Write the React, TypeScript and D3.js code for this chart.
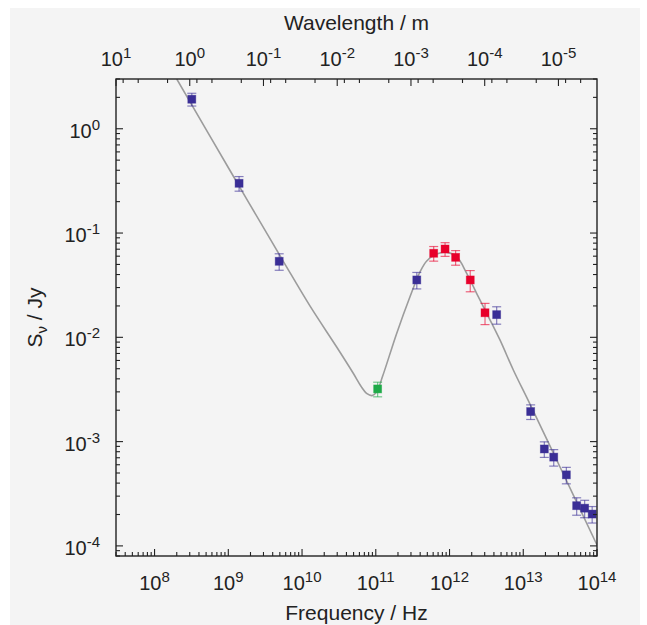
import React from 'react';
import * as d3 from 'd3';

// ---- data ----
const blueFreq = [3.2e8, 1.4e9, 4.9e9, 3.6e11, 4.36e12, 1.26e13, 1.93e13, 2.59e13, 3.84e13, 5.3e13, 6.8e13, 8.6e13];
const blueFlux = [1.92, 0.30, 0.0536, 0.0355, 0.0165, 1.94e-3, 8.5e-4, 7.1e-4, 4.8e-4, 2.43e-4, 2.30e-4, 2.02e-4];
const blueErr = [0.14, 0.16, 0.18, 0.18, 0.19, 0.16, 0.17, 0.18, 0.18, 0.19, 0.19, 0.18];

const greenFreq = [1.06e11];
const greenFlux = [3.2e-3];
const greenErr = [0.16];

const redFreq = [6.1e11, 8.7e11, 1.21e12, 1.91e12, 3.03e12];
const redFlux = [0.064, 0.0703, 0.0585, 0.0355, 0.0172];
const redErr = [0.16, 0.15, 0.16, 0.23, 0.23];

// model curve
const curveFreq = [2.0e8, 1.05e9, 5.57e9, 1.28e10, 2.95e10, 4.95e10, 6.3e10, 7.6e10, 8.9e10, 1.03e11, 1.24e11, 1.92e11, 2.91e11, 3.98e11, 4.91e11, 6.7e11, 9.16e11, 1.25e12, 1.71e12, 2.33e12, 3.19e12, 4.83e12, 7.33e12, 1.23e13, 3.15e13, 1.0e14];
const curveFlux = [3.0, 0.40, 0.0536, 0.02, 8.07e-3, 4.52e-3, 3.4e-3, 2.88e-3, 2.76e-3, 3.0e-3, 4.25e-3, 0.0109, 0.0245, 0.0424, 0.054, 0.063, 0.0652, 0.0593, 0.0411, 0.0264, 0.017, 9.44e-3, 4.86e-3, 2.3e-3, 5.71e-4, 1.02e-4];

const freqExps = [8, 9, 10, 11, 12, 13, 14];
const fluxExps = [0, -1, -2, -3, -4];
const waveExps = [1, 0, -1, -2, -3, -4, -5];
const waveMinorMult = [8, 5, 2];

const C_LIGHT = 3e8;

const W = 647, H = 625;
const L = 116, R = 597, T = 79, B = 556;
const FONT = '"Liberation Sans", Arial, Helvetica, sans-serif';

const BLUE = '#3a2e96';
const RED = '#e8002b';
const GREEN = '#1eaa48';

export default function App() {
  const x = d3.scaleLog().domain([3e7, 1e14]).range([L, R]);
  const y = d3.scaleLog().domain([8e-5, 3]).range([B, T]);

  const xTicks: { v: number; major: boolean }[] = [];
  for (let e = 7; e <= 14; e++) {
    for (let m = 1; m <= 9; m++) {
      const v = m * Math.pow(10, e);
      if (v >= 3e7 * 0.999 && v <= 1e14 * 1.001) xTicks.push({ v, major: m === 1 });
    }
  }
  const yTicks: { v: number; major: boolean }[] = [];
  for (let e = -5; e <= 0; e++) {
    for (let m = 1; m <= 9; m++) {
      const v = m * Math.pow(10, e);
      if (v >= 8e-5 * 0.999 && v <= 3 * 1.001) yTicks.push({ v, major: m === 1 });
    }
  }
  const topTicks: { v: number; major: boolean }[] = [];
  for (let e = 1; e >= -6; e--) {
    const lam = Math.pow(10, e);
    const nu = C_LIGHT / lam;
    if (nu >= 3e7 * 0.999 && nu <= 1e14 * 1.001) topTicks.push({ v: nu, major: true });
    for (const m of waveMinorMult) {
      const l2 = m * Math.pow(10, e - 1);
      const n2 = C_LIGHT / l2;
      if (n2 > 3e7 * 1.001 && n2 < 1e14 * 0.999) topTicks.push({ v: n2, major: false });
    }
  }

  const curveData: [number, number][] = curveFreq.map((f, i) => [f, curveFlux[i]]);
  const line = d3
    .line<[number, number]>()
    .x((d) => x(d[0]))
    .y((d) => y(d[1]))
    .curve(d3.curveCatmullRom.alpha(0.5));

  const series = [
    { f: blueFreq, s: blueFlux, e: blueErr, c: BLUE },
    { f: greenFreq, s: greenFlux, e: greenErr, c: GREEN },
    { f: redFreq, s: redFlux, e: redErr, c: RED },
  ];

  const MAJ = 7, MIN = 4;
  const SQ = 8, CAP = 4.5;

  return (
    <svg width={W} height={H} style={{ position: 'absolute', left: 0, top: 0, background: '#ffffff' }} fontFamily={FONT}>
      <rect x={10} y={8} width={630} height={617} fill="#f4f4f4" />
      <defs>
        <clipPath id="plotclip">
          <rect x={L} y={T} width={R - L} height={B - T} />
        </clipPath>
      </defs>

      {/* curve */}
      <path d={line(curveData) || ''} fill="none" stroke="#9c9c9c" strokeWidth={1.6} clipPath="url(#plotclip)" />

      {/* points */}
      {series.map((sr, si) =>
        sr.f.map((f, i) => {
          const cx = x(f);
          const cy = y(sr.s[i]);
          const hi = y(sr.s[i] * (1 + sr.e[i]));
          const lo = y(sr.s[i] * (1 - sr.e[i]));
          return (
            <g key={`${si}-${i}`}>
              <g stroke={sr.c} strokeOpacity={0.6} strokeWidth={1.2}>
                <line x1={cx} x2={cx} y1={hi} y2={lo} />
                <line x1={cx - CAP} x2={cx + CAP} y1={hi} y2={hi} />
                <line x1={cx - CAP} x2={cx + CAP} y1={lo} y2={lo} />
              </g>
              <rect x={cx - SQ / 2} y={cy - SQ / 2} width={SQ} height={SQ} fill={sr.c} stroke={sr.c} strokeOpacity={0.5} strokeWidth={0.8} />
            </g>
          );
        })
      )}

      {/* ticks */}
      <g stroke="#222" strokeWidth={1.1}>
        {xTicks.map((t, i) => (
          <line key={'xb' + i} x1={x(t.v)} x2={x(t.v)} y1={B} y2={B - (t.major ? MAJ : MIN)} />
        ))}
        {topTicks.map((t, i) => (
          <line key={'xt' + i} x1={x(t.v)} x2={x(t.v)} y1={T} y2={T + (t.major ? MAJ : MIN)} />
        ))}
        {yTicks.map((t, i) => (
          <line key={'yl' + i} x1={L} x2={L + (t.major ? MAJ : MIN)} y1={y(t.v)} y2={y(t.v)} />
        ))}
        {yTicks.map((t, i) => (
          <line key={'yr' + i} x1={R} x2={R - (t.major ? MAJ : MIN)} y1={y(t.v)} y2={y(t.v)} />
        ))}
      </g>

      {/* frame */}
      <rect x={L} y={T} width={R - L} height={B - T} fill="none" stroke="#222" strokeWidth={1.4} />

      {/* bottom tick labels */}
      {freqExps.map((e) => (
        <text key={'bl' + e} x={x(Math.pow(10, e))} y={590} textAnchor="middle" fontSize={20} fill="#222">
          <tspan>10</tspan>
          <tspan dy={-8} fontSize={15}>{e}</tspan>
        </text>
      ))}
      {/* top tick labels */}
      {waveExps.map((e) => (
        <text key={'tl' + e} x={x(C_LIGHT / Math.pow(10, e))} y={66} textAnchor="middle" fontSize={20} fill="#222">
          <tspan>10</tspan>
          <tspan dy={-8} fontSize={15}>{e}</tspan>
        </text>
      ))}
      {/* left tick labels */}
      {fluxExps.map((e) => (
        <text key={'ll' + e} x={100} y={y(Math.pow(10, e)) + 9} textAnchor="end" fontSize={20} fill="#222">
          <tspan>10</tspan>
          <tspan dy={-8} fontSize={15}>{e}</tspan>
        </text>
      ))}

      {/* axis titles */}
      <text x={(L + R) / 2} y={620} textAnchor="middle" fontSize={21} fill="#222">Frequency / Hz</text>
      <text x={(L + R) / 2} y={30} textAnchor="middle" fontSize={21} fill="#222">Wavelength / m</text>
      <text transform={`translate(42, ${(T + B) / 2}) rotate(-90)`} textAnchor="middle" fontSize={21} fill="#222">
        <tspan>S</tspan>
        <tspan dy={5} fontSize={15}>ν</tspan>
        <tspan dy={-5}> / Jy</tspan>
      </text>
    </svg>
  );
}
